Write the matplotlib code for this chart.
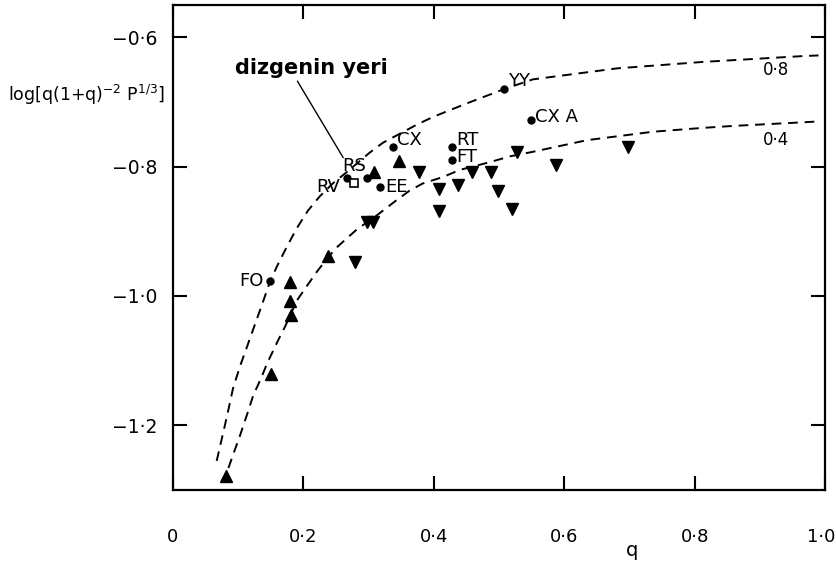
import matplotlib
matplotlib.use("Agg")
import matplotlib.pyplot as plt
from matplotlib.transforms import ScaledTranslation

# dashed model curves
upper_q = [0.067, 0.075, 0.083, 0.092, 0.103, 0.113, 0.126, 0.137, 0.149, 0.160,
           0.175, 0.190, 0.207, 0.225, 0.245, 0.267, 0.302, 0.322, 0.374, 0.399,
           0.451, 0.508, 0.552, 0.681, 0.813, 0.966, 0.99]
upper_y = [-1.255, -1.220, -1.185, -1.143, -1.108, -1.080, -1.043, -1.012, -0.977, -0.953,
           -0.923, -0.895, -0.868, -0.846, -0.826, -0.808, -0.778, -0.763, -0.735, -0.723,
           -0.702, -0.680, -0.665, -0.648, -0.638, -0.629, -0.628]
lower_q = [0.085, 0.092, 0.103, 0.113, 0.123, 0.136, 0.144, 0.160, 0.172, 0.190,
           0.205, 0.221, 0.238, 0.251, 0.282, 0.313, 0.340, 0.363, 0.383, 0.414,
           0.440, 0.486, 0.517, 0.552, 0.635, 0.736, 0.813, 0.859, 0.974, 0.99]
lower_y = [-1.266, -1.246, -1.215, -1.185, -1.154, -1.125, -1.105, -1.071, -1.047, -1.007,
           -0.985, -0.962, -0.940, -0.925, -0.897, -0.875, -0.854, -0.837, -0.826, -0.816,
           -0.805, -0.793, -0.784, -0.777, -0.759, -0.746, -0.740, -0.737, -0.731, -0.730]
curve_names = ["0·8", "0·4"]

# filled circles (named systems)
circ_q = [0.149, 0.267, 0.297, 0.317, 0.337, 0.428, 0.428, 0.508, 0.549]
circ_y = [-0.977, -0.818, -0.818, -0.831, -0.769, -0.769, -0.790, -0.680, -0.728]
circ_names = ["FO", "RV", "", "EE", "CX", "RT", "FT", "YY", "CX A"]

# open square (the system)
sq_q = [0.278]
sq_y = [-0.825]
sq_name = "RS"

# triangles
up_q = [0.081, 0.150, 0.179, 0.179, 0.181, 0.238, 0.308, 0.347]
up_y = [-1.278, -1.120, -0.978, -1.008, -1.029, -0.938, -0.809, -0.791]
dn_q = [0.279, 0.297, 0.307, 0.377, 0.408, 0.408, 0.437, 0.458, 0.488, 0.499,
        0.520, 0.527, 0.587, 0.698]
dn_y = [-0.948, -0.886, -0.886, -0.808, -0.835, -0.868, -0.828, -0.808, -0.808, -0.838,
        -0.866, -0.778, -0.798, -0.769]

xticks = [0, 0.2, 0.4, 0.6, 0.8, 1.0]
xticklabels = ["0", "0·2", "0·4", "0·6", "0·8", "1·0"]
yticks = [-0.6, -0.8, -1.0, -1.2]
yticklabels = ["\u22120·6", "\u22120·8", "\u22121·0", "\u22121·2"]

plt.rcParams["font.family"] = ["DejaVu Sans"]

fig = plt.figure(figsize=(8.36, 5.63), dpi=100)
ax = fig.add_axes([173 / 836, 1 - 490 / 563, 652 / 836, 485 / 563])

dash = dict(color="black", lw=1.4, ls=(0, (5, 3.5)))
ax.plot(upper_q, upper_y, **dash)
ax.plot(lower_q, lower_y, **dash)

ax.plot(circ_q, circ_y, "o", color="black", ms=5, ls="none")
ax.plot(sq_q, sq_y, "s", mfc="white", mec="black", mew=1.2, ms=6, ls="none")
ax.plot(up_q, up_y, "^", color="black", ms=8, ls="none")
ax.plot(dn_q, dn_y, "v", color="black", ms=8, ls="none")

# point labels: offsets in points
offs = {"FO": (-5, 0, "right"), "RV": (-5, -6, "right"), "EE": (4, 0, "left"),
        "CX": (3, 5, "left"), "RT": (3, 5, "left"), "FT": (3, 2, "left"),
        "YY": (3, 6, "left"), "CX A": (3, 2, "left")}
for q, y, name in zip(circ_q, circ_y, circ_names):
    if not name:
        continue
    dx, dy, ha = offs[name]
    ax.annotate(name, (q, y), xytext=(dx, dy), textcoords="offset points",
                ha=ha, va="center", fontsize=13)
ax.annotate(sq_name, (sq_q[0], sq_y[0]), xytext=(0, 12), textcoords="offset points",
            ha="center", va="center", fontsize=13)

ax.text(0.925, -0.651, curve_names[0], ha="center", va="center", fontsize=12)
ax.text(0.925, -0.758, curve_names[1], ha="center", va="center", fontsize=12)

ax.annotate("dizgenin yeri", xy=(0.261, -0.786), xytext=(0.2117, -0.648),
            ha="center", va="center", fontsize=15, fontweight="bold",
            arrowprops=dict(arrowstyle="-", color="black", lw=1,
                            shrinkA=0, shrinkB=0, relpos=(0.4, 0)))

ax.set_xlim(0, 1.0)
ax.set_ylim(-1.3, -0.55)
ax.set_xticks(xticks)
ax.set_xticklabels(xticklabels, fontsize=13)
ax.set_yticks(yticks)
ax.set_yticklabels(yticklabels, fontsize=13.5)
ax.tick_params(axis="both", direction="in", length=10, width=1.5,
               top=True, right=True)
ax.tick_params(axis="x", pad=27)
ax.tick_params(axis="y", pad=11)
for s in ax.spines.values():
    s.set_linewidth(1.6)

# the last x label sits right at the figure edge; nudge it in a little
last = ax.get_xticklabels()[-1]
last.set_transform(last.get_transform() + ScaledTranslation(-3 / 72, 0, fig.dpi_scale_trans))

fig.text(8 / 836, 1 - 95 / 563, r"log[q(1+q)$^{-2}$ P$^{1/3}$]", ha="left",
         va="center", fontsize=12.5)
fig.text(632 / 836, 1 - 550 / 563, "q", ha="center", va="center", fontsize=14)

fig.savefig("out.png", dpi=100)
